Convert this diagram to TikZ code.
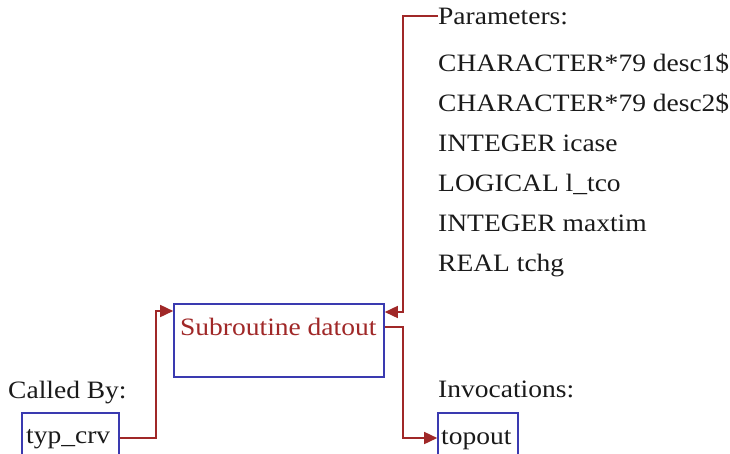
\documentclass[tikz,border=0pt]{standalone}
\usepackage{fontspec}
\setmainfont{Liberation Serif}[FakeStretch=1.1]
\usetikzlibrary{arrows.meta}
\definecolor{linkred}{HTML}{A02828}
\definecolor{boxblue}{HTML}{3A3AB0}
\definecolor{txtgray}{HTML}{1A1A1A}
\tikzset{
  lbl/.style={anchor=base west,inner sep=0pt,text=txtgray,font=\fontsize{25}{30}\selectfont},
  rbox/.style={draw=boxblue,line width=1.6pt,inner sep=0pt},
  conn/.style={draw=linkred,line width=1.6pt},
  arr/.style={conn,-{Triangle[length=13pt,width=12pt]}}
}
\begin{document}
\begin{tikzpicture}[x=1pt,y=-1pt]
\useasboundingbox (0,0) rectangle (730,453);
\clip (0,0) rectangle (730,453);
\fill[white] (0,0) rectangle (730,453);
% boxes
\node[rbox,minimum width=210pt,minimum height=73pt] (main) at (279,340.5) {};
\node[lbl,text=linkred] (maintext) at (180,335) {Subroutine datout};
\node[rbox,minimum width=97pt,minimum height=50pt] (typ) at (70.5,438) {};
\node[lbl] (typtext) at (26,443) {typ\_crv};
\node[rbox,minimum width=80pt,minimum height=50pt] (top) at (478,438) {};
\node[lbl] (toptext) at (441,444) {topout};
% labels
\node[lbl] (calledby) at (8,398) {Called By:};
\node[lbl] (invoc) at (438,397) {Invocations:};
\node[lbl] (params) at (438,24) {Parameters:};
\node[lbl] (p1) at (438,71) {CHARACTER*79 desc1\$};
\node[lbl] (p2) at (438,111) {CHARACTER*79 desc2\$};
\node[lbl] (p3) at (438,151) {INTEGER icase};
\node[lbl] (p4) at (438,191) {LOGICAL l\_tco};
\node[lbl] (p5) at (438,231) {INTEGER maxtim};
\node[lbl] (p6) at (438,271) {REAL tchg};
% connectors
\coordinate (j1) at (156,311);
\draw[arr] (typ.east) -| (j1) -- (main.west |- j1);
\coordinate (jp) at (403,16);
\coordinate (jin) at (403,312);
\draw[arr] (params.west |- jp) -- (jp) -- (jin) -- (main.east |- jin);
\coordinate (jout) at (403,327);
\draw[arr] (main.east |- jout) -- (jout) |- (top.west);
\end{tikzpicture}
\end{document}
